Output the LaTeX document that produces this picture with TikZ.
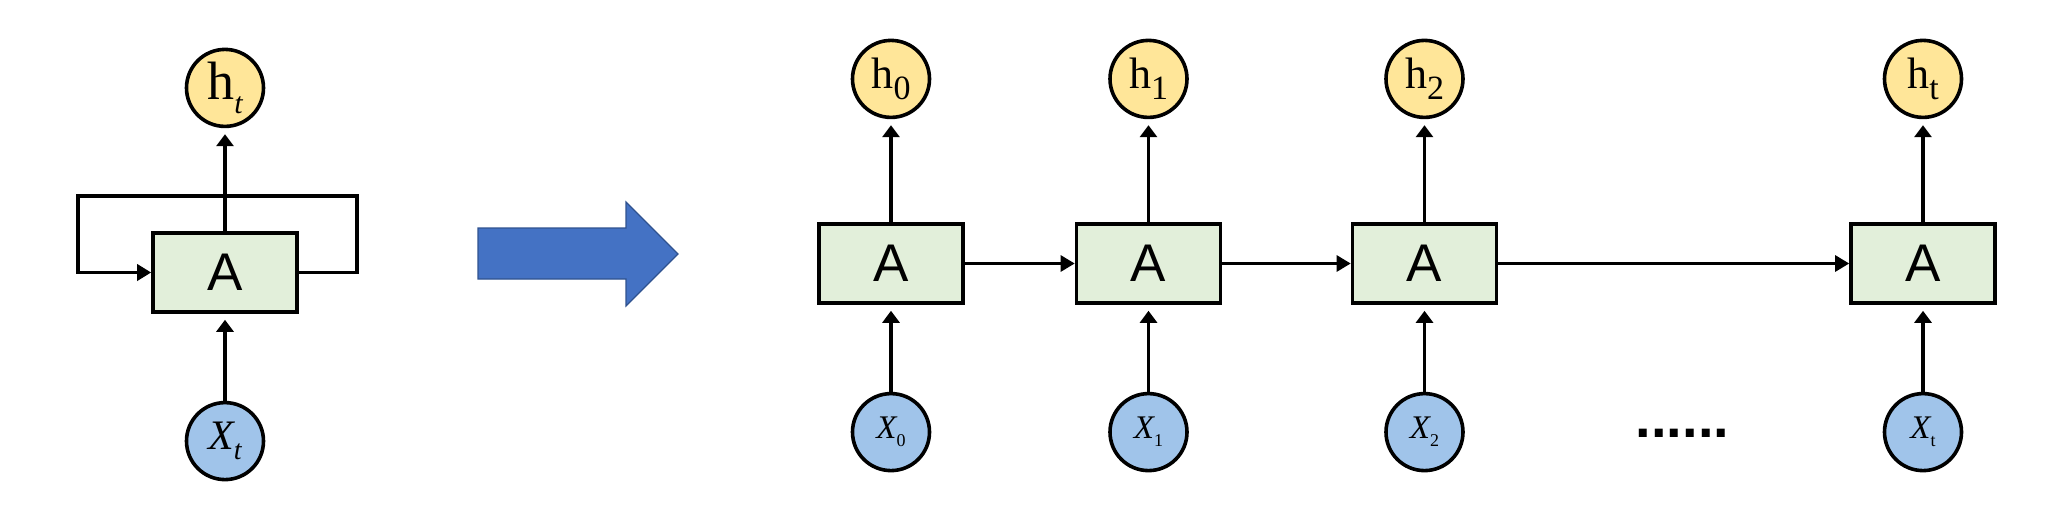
\documentclass[tikz,border=0pt]{standalone}
\usepackage{fontspec}
\setmainfont{Liberation Serif}
\newfontfamily\arialfont{Liberation Sans}
\usepackage{xcolor}
\usepackage{tikz}
\usetikzlibrary{arrows.meta,positioning,calc}
\definecolor{cellfill}{RGB}{226,239,218}
\definecolor{hfill}{RGB}{255,230,153}
\definecolor{xfill}{RGB}{160,196,234}
\definecolor{bigblue}{RGB}{68,114,196}
\definecolor{bigedge}{RGB}{47,82,143}
\newcommand{\hsub}[1]{{\fontsize{22}{22}\selectfont h}\raisebox{-5.8pt}{\fontsize{17}{17}\selectfont #1}}
\newcommand{\xsub}[1]{{\fontsize{16.5}{16.5}\selectfont\itshape X}\raisebox{-4pt}{\fontsize{9}{9}\selectfont #1}}

\begin{document}
\begin{tikzpicture}[
  x=0.5pt, y=0.5pt,
  cell/.style={draw,line width=1.8pt,fill=cellfill,minimum width=72pt,minimum height=39.5pt,
    inner sep=0pt,font=\arialfont\fontsize{26.5}{26.5}\selectfont},
  outp/.style={draw,circle,line width=1.8pt,fill=hfill,minimum size=38.5pt,inner sep=0pt},
  inp/.style={draw,circle,line width=1.8pt,fill=xfill,minimum size=38.5pt,inner sep=0pt},
  up/.style={-{Triangle[length=6pt,width=8.5pt]},line width=1.8pt,shorten >=3pt},
  flow/.style={-{Triangle[length=7pt,width=8pt]},line width=1.4pt},
  loopline/.style={-{Triangle[length=7pt,width=8pt]},line width=1.8pt}]
\useasboundingbox (0,0) rectangle (2052,516);
% folded cell
\node[cell] (L) at (225,243.5) {A};
\node[outp, above=51.5pt of L] (Lh) {{\fontsize{27}{27}\selectfont h}\raisebox{-6.7pt}{\fontsize{15}{15}\selectfont\itshape t}};
\node[inp, below=43.5pt of L] (Lx) {{\fontsize{21}{21}\selectfont\itshape X}\raisebox{-5pt}{\fontsize{14}{14}\selectfont\itshape t}};
\draw[up] (Lx) -- (L);
\draw[up] (L) -- (Lh);
\draw[loopline] (L.east) -- ++(29pt,0) |- ([yshift=17.5pt]L.north) -| ([xshift=-36.5pt]L.west) -- (L.west);
% unfold arrow
\draw[fill=bigblue,draw=bigedge,line width=0.6pt]
  (478,288) -- (626,288) -- (626,314) -- (678,262) -- (626,210) -- (626,237) -- (478,237) -- cycle;
% unrolled chain
\node[cell] (A0) at (891,252.5) {A};
\node[cell] (A1) at (1148.5,252.5) {A};
\node[cell] (A2) at (1424.5,252.5) {A};
\node[cell] (At) at (1923,252.5) {A};
\node[outp, above=51.5pt of A0] (h0) {\hsub{0}};
\node[outp, above=51.5pt of A1] (h1) {\hsub{1}};
\node[outp, above=51.5pt of A2] (h2) {\hsub{2}};
\node[outp, above=51.5pt of At] (ht) {\hsub{t}};
\node[inp, below=43.5pt of A0] (x0) {\xsub{0}};
\node[inp, below=43.5pt of A1] (x1) {\xsub{1}};
\node[inp, below=43.5pt of A2] (x2) {\xsub{2}};
\node[inp, below=43.5pt of At] (xt) {\xsub{t}};
\node[anchor=base,font=\arialfont\bfseries\fontsize{28}{28}\selectfont] (dots) at (1682.5,79) {......};
\draw[up] (x0) -- (A0);
\draw[up] (x1) -- (A1);
\draw[up] (x2) -- (A2);
\draw[up] (xt) -- (At);
\draw[up] (A0) -- (h0);
\draw[up] (A1) -- (h1);
\draw[up] (A2) -- (h2);
\draw[up] (At) -- (ht);
\draw[flow] (A0) -- (A1);
\draw[flow] (A1) -- (A2);
\draw[flow] (A2) -- (At);
\end{tikzpicture}
\end{document}
